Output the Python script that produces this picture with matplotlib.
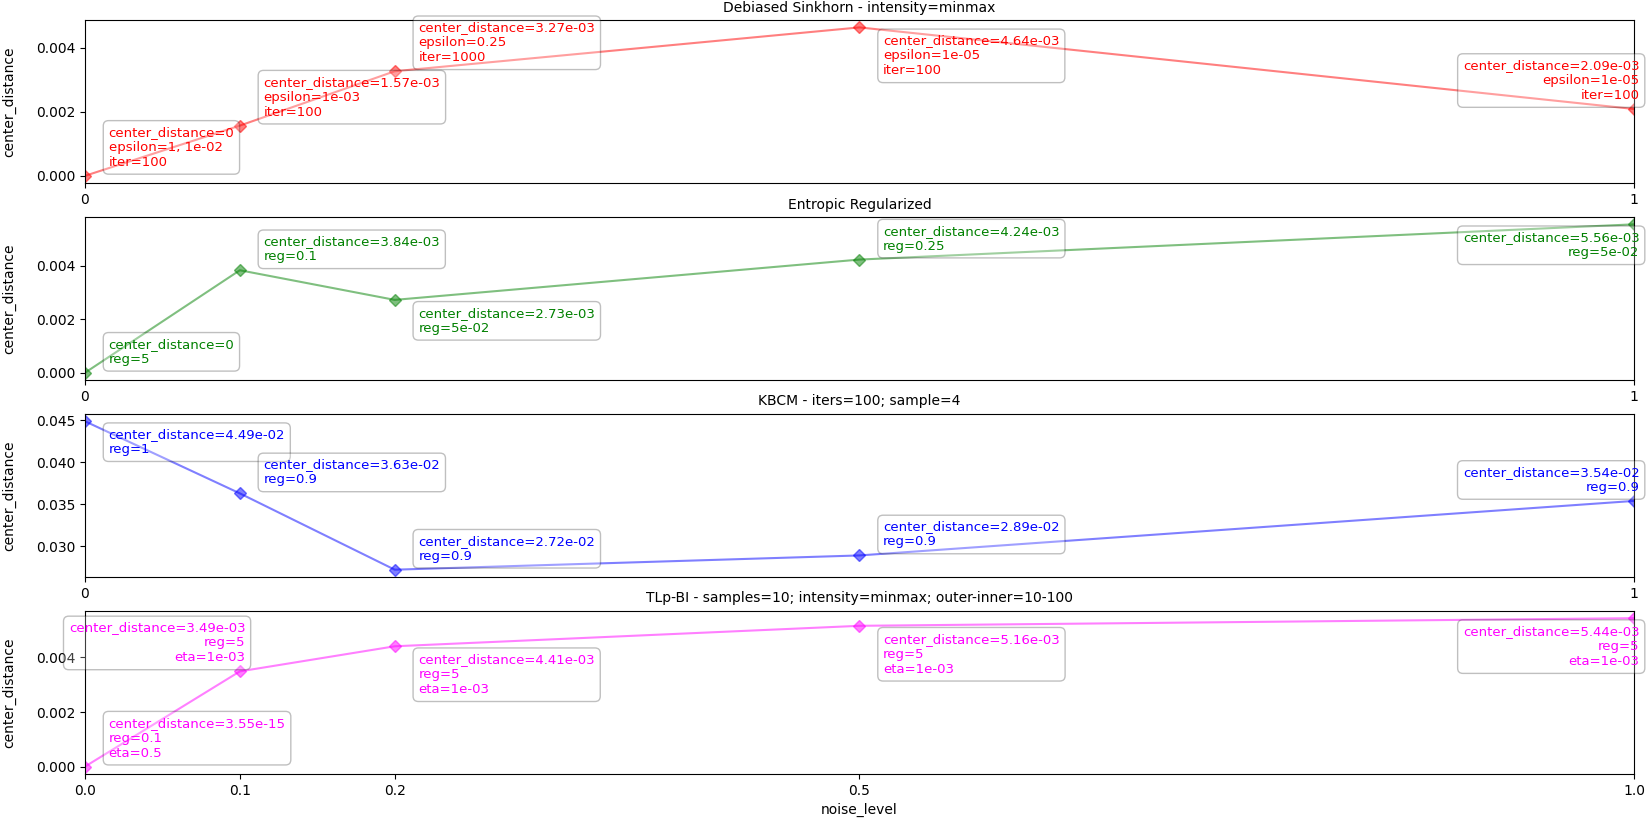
import matplotlib
matplotlib.use("Agg")
import matplotlib.pyplot as plt

# noise levels shared by every method
noise_level = [0.0, 0.1, 0.2, 0.5, 1.0]

sinkhorn_dist = [0.0, 1.57e-03, 3.27e-03, 4.64e-03, 2.09e-03]
sinkhorn_params = [
    "epsilon=1, 1e-02\niter=100",
    "epsilon=1e-03\niter=100",
    "epsilon=0.25\niter=1000",
    "epsilon=1e-05\niter=100",
    "epsilon=1e-05\niter=100",
]
sinkhorn_dist_txt = ["0", "1.57e-03", "3.27e-03", "4.64e-03", "2.09e-03"]

entropic_dist = [0.0, 3.84e-03, 2.73e-03, 4.24e-03, 5.56e-03]
entropic_params = ["reg=5", "reg=0.1", "reg=5e-02", "reg=0.25", "reg=5e-02"]
entropic_dist_txt = ["0", "3.84e-03", "2.73e-03", "4.24e-03", "5.56e-03"]

kbcm_dist = [4.49e-02, 3.63e-02, 2.72e-02, 2.89e-02, 3.54e-02]
kbcm_params = ["reg=1", "reg=0.9", "reg=0.9", "reg=0.9", "reg=0.9"]
kbcm_dist_txt = ["4.49e-02", "3.63e-02", "2.72e-02", "2.89e-02", "3.54e-02"]

tlp_dist = [3.55e-15, 3.49e-03, 4.41e-03, 5.16e-03, 5.44e-03]
tlp_params = [
    "reg=0.1\neta=0.5",
    "reg=5\neta=1e-03",
    "reg=5\neta=1e-03",
    "reg=5\neta=1e-03",
    "reg=5\neta=1e-03",
]
tlp_dist_txt = ["3.55e-15", "3.49e-03", "4.41e-03", "5.16e-03", "5.44e-03"]

titles = [
    "Debiased Sinkhorn - intensity=minmax",
    "Entropic Regularized",
    "KBCM - iters=100; sample=4",
    "TLp-BI - samples=10; intensity=minmax; outer-inner=10-100",
]
colors = ["red", "green", "blue", "magenta"]

# where each label box goes: (side, above/below)
placement = [
    [("r", "up"), ("r", "up"), ("r", "up"), ("r", "down"), ("l", "up")],
    [("r", "up"), ("r", "up"), ("r", "down"), ("r", "up"), ("l", "down")],
    [("r", "down"), ("r", "up"), ("r", "up"), ("r", "up"), ("l", "up")],
    [("r", "up"), ("l", "up"), ("r", "down"), ("r", "down"), ("l", "down")],
]


def draw_method(ax, y, dist_txt, params, color, title, place):
    ax.plot(noise_level, y, marker="D", color=color, alpha=0.5, markersize=6.5)
    for x, v, d, p, (side, vert) in zip(noise_level, y, dist_txt, params, place):
        label = "center_distance=%s\n%s" % (d, p)
        dx = 17 if side == "r" else 4
        dy = 5 if vert == "up" else -5
        ax.annotate(
            label, (x, v), xytext=(dx, dy), textcoords="offset points",
            ha="left" if side == "r" else "right",
            va="bottom" if vert == "up" else "top",
            color=color, fontsize=9.5, multialignment="left" if side == "r" else "right",
            bbox=dict(boxstyle="round,pad=0.4", fc="white", ec="black", alpha=0.25),
            zorder=5,
        )
    ax.set_title(title, fontsize=10)
    ax.set_ylabel("center_distance", labelpad=14)
    ax.set_xlim(0, 1)


fig, axes = plt.subplots(4, 1, figsize=(16.46, 8.19), dpi=100)
fig.subplots_adjust(left=0.0516, right=0.9927, top=0.9756, bottom=0.0549, hspace=0.206)

all_dist = [sinkhorn_dist, entropic_dist, kbcm_dist, tlp_dist]
all_txt = [sinkhorn_dist_txt, entropic_dist_txt, kbcm_dist_txt, tlp_dist_txt]
all_params = [sinkhorn_params, entropic_params, kbcm_params, tlp_params]

for i, ax in enumerate(axes):
    draw_method(ax, all_dist[i], all_txt[i], all_params[i], colors[i], titles[i], placement[i])
    if i < 3:
        ax.set_xticks([0, 1])
        ax.set_xticklabels(["0", "1"])
    else:
        ax.set_xticks(noise_level)
        ax.set_xlabel("noise_level")

fig.savefig("out.png", dpi=100)
